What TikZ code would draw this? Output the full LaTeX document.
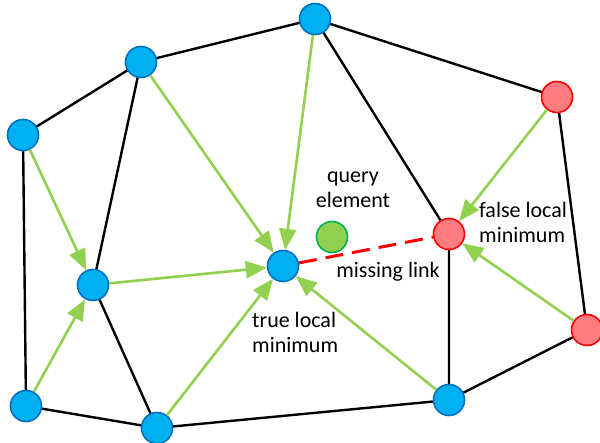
\documentclass[tikz,border=0pt]{standalone}
\usepackage{fontspec}
\setmainfont{Carlito}
\usetikzlibrary{arrows.meta}
\definecolor{ptblue}{HTML}{00B0F0}
\definecolor{ptblueline}{HTML}{0070C0}
\definecolor{ptred}{HTML}{FF7C80}
\definecolor{ptgreen}{HTML}{92D050}
\definecolor{ptgreenline}{HTML}{00B050}
\tikzset{
  pt/.style={circle, minimum size=31pt, inner sep=0pt, line width=1.6pt},
  bluept/.style={pt, fill=ptblue, draw=ptblueline},
  redpt/.style={pt, fill=ptred, draw=red},
  querypt/.style={pt, fill=ptgreen, draw=ptgreenline},
  edge/.style={line width=2.4pt, black},
  greedy/.style={line width=2.6pt, ptgreen, -{Triangle[length=21pt,width=17pt]}},
  lbl/.style={font=\fontsize{22}{25}\selectfont, align=center, inner sep=0pt}
}
\begin{document}
\begin{tikzpicture}[x=1pt, y=-1pt]
\useasboundingbox (0,0) rectangle (600,443);
% edges of the graph, drawn first
\coordinate (P_0) at (315,19);
\coordinate (P_1) at (141,62);
\coordinate (P_2) at (23,135);
\coordinate (P_3) at (93,285);
\coordinate (P_4) at (283,266);
\coordinate (P_5) at (557,97);
\coordinate (P_6) at (449,234);
\coordinate (P_7) at (587,330);
\coordinate (P_8) at (26,406);
\coordinate (P_9) at (157,428);
\coordinate (P_10) at (449,400);
\draw[edge] (P_0) -- (P_1) -- (P_2) -- (P_8) -- (P_9) -- (P_10) -- (P_7) -- (P_5) -- cycle;
\draw[edge] (P_1) -- (P_3) -- (P_9);
\draw[edge] (P_0) -- (P_6) -- (P_10);
% points
\node[bluept] (N_0) at (P_0) {};
\node[bluept] (N_1) at (P_1) {};
\node[bluept] (N_2) at (P_2) {};
\node[bluept] (N_3) at (P_3) {};
\node[bluept] (N_4) at (P_4) {};
\node[redpt] (N_5) at (P_5) {};
\node[redpt] (N_6) at (P_6) {};
\node[redpt] (N_7) at (P_7) {};
\node[bluept] (N_8) at (P_8) {};
\node[bluept] (N_9) at (P_9) {};
\node[bluept] (N_10) at (P_10) {};
\node[querypt] (Q) at (332,237) {};
% greedy steps
\draw[greedy] (N_0) -- (N_4);
\draw[greedy] (N_1) -- (N_4);
\draw[greedy] (N_3) -- (N_4);
\draw[greedy] (N_9) -- (N_4);
\draw[greedy] (N_10) -- (N_4);
\draw[greedy] (N_2) -- (N_3);
\draw[greedy] (N_8) -- (N_3);
\draw[greedy] (N_5) -- (N_6);
\draw[greedy] (N_7) -- (N_6);
\draw[red, line width=3pt, dash pattern=on 18pt off 9pt] (N_4) -- (N_6);
% labels
\node[lbl] (L_q) at (353,190) {query\\element};
\node[lbl, anchor=west, align=left] (L_f) at (479,222) {false local\\minimum};
\node[lbl] (L_m) at (388,272) {missing link};
\node[lbl, anchor=west, align=left] (L_t) at (252,332) {true local\\minimum};
\end{tikzpicture}
\end{document}
